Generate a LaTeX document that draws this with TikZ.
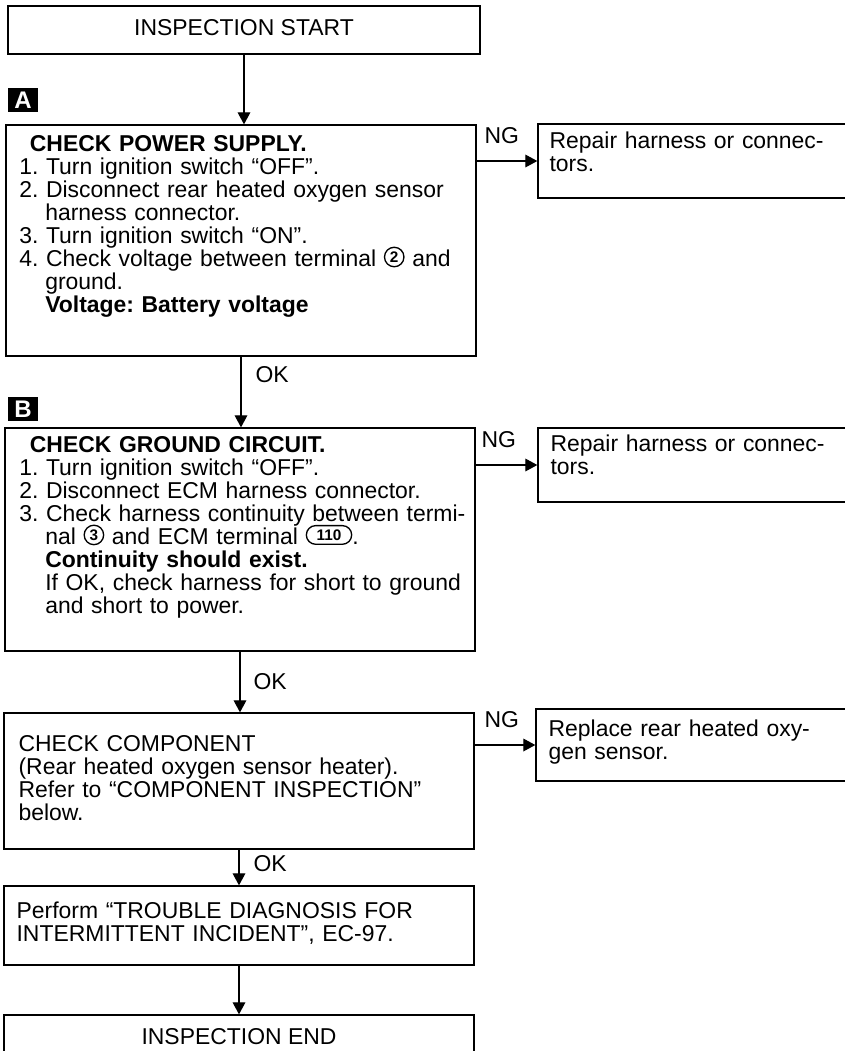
\documentclass[tikz,border=0pt]{standalone}
\usepackage{fontspec}
\setmainfont{Liberation Sans}
\frenchspacing
\usetikzlibrary{arrows.meta}

\tikzset{every picture/.style={line width=0.9pt}}
\tikzset{
  procbox/.style={draw, line width=1pt, inner sep=0pt},
  boxtxt/.style={anchor=base west, inner sep=0pt, text width=350pt, align=left, font=\fontsize{17.2}{17.3}\selectfont},
  sidetxt/.style={boxtxt, text width=230pt},
  lbl/.style={anchor=base west, inner sep=0pt, font=\fontsize{17.2}{17.3}\selectfont},
  tag/.style={fill=black, text=white, inner sep=0pt, minimum width=22.5pt, minimum height=18pt, font=\fontsize{18}{18}\selectfont\bfseries},
  flow/.style={-{Triangle[length=9pt,width=9.5pt]}, line width=0.9pt},
  termnum/.style={anchor=center, inner sep=0pt, text width={}, align=center, font=\fontsize{11.5}{11.5}\selectfont\bfseries}
}
% circled terminal numbers
\newcommand{\cnum}[1]{\smash{\tikz[baseline=-7pt]{\draw[line width=1pt] (0pt,0pt) circle[radius=7.3pt]; \node[termnum] (cn) at (0pt,0pt) {#1};}}}
\newcommand{\onum}[1]{\smash{\tikz[baseline=-7pt]{\draw[line width=1pt, rounded corners=7pt] (-17pt,-7pt) rectangle (17pt,7pt); \node[termnum] (on) at (0pt,0pt) {#1};}}}

\begin{document}
\begin{tikzpicture}[x=0.75pt,y=0.75pt,yscale=-1,xscale=1]
\useasboundingbox (0,0) rectangle (845,1051);

%Flowchart: Process
\node[procbox, minimum width=354pt, minimum height=36pt, text depth=4pt, font=\fontsize{17.2}{17}\selectfont] (start) at (244,30) {INSPECTION START};
%Flowchart: Process
\node[procbox, minimum width=352.5pt, minimum height=173.25pt] (pwr) at (241,240.5) {};
%Flowchart: Process
\node[procbox, minimum width=352.5pt, minimum height=167.25pt] (gnd) at (240,539.5) {};
%Flowchart: Process
\node[procbox, minimum width=352.5pt, minimum height=102pt] (comp) at (239,781) {};
%Flowchart: Process
\node[procbox, minimum width=352.5pt, minimum height=59.25pt] (perf) at (239,925.5) {};
%Flowchart: Process
\node[procbox, minimum width=352.5pt, minimum height=33pt, font=\fontsize{17.2}{17}\selectfont] (fin) at (239,1037) {INSPECTION END};
%Flowchart: Process
\node[procbox, minimum width=237.75pt, minimum height=55.5pt] (rep1) at (696.5,161) {};
%Flowchart: Process
\node[procbox, minimum width=237.75pt, minimum height=55.5pt] (rep2) at (696.5,465) {};
%Flowchart: Process
\node[procbox, minimum width=239.25pt, minimum height=54pt] (repl) at (695.5,745) {};

% Tags
\node[tag] (tagA) at (23,100) {A};
\node[tag] (tagB) at (23,409) {B};

% Text Node
\node[boxtxt] (txtpwr) at (19,151) {\hspace*{8pt}\textbf{CHECK POWER SUPPLY.}\\
1. Turn ignition switch “OFF”.\\
2. Disconnect rear heated oxygen sensor\\
\hspace*{19.5pt}harness connector.\\
3. Turn ignition switch “ON”.\\
4. Check voltage between terminal \cnum{2} and\\
\hspace*{19.5pt}ground.\\
\hspace*{19.5pt}\textbf{Voltage: Battery voltage}};
% Text Node
\node[boxtxt] (txtgnd) at (19,452) {\hspace*{8pt}\textbf{CHECK GROUND CIRCUIT.}\\
1. Turn ignition switch “OFF”.\\
2. Disconnect ECM harness connector.\\
3. Check harness continuity between termi-\\
\hspace*{19.5pt}nal \cnum{3} and ECM terminal \onum{110}.\\
\hspace*{19.5pt}\textbf{Continuity should exist.}\\
\hspace*{19.5pt}If OK, check harness for short to ground\\
\hspace*{19.5pt}and short to power.};
% Text Node
\node[boxtxt] (txtcomp) at (18,751) {CHECK COMPONENT\\
(Rear heated oxygen sensor heater).\\
Refer to “COMPONENT INSPECTION”\\
below.};
% Text Node
\node[boxtxt] (txtperf) at (16,918) {Perform “TROUBLE DIAGNOSIS FOR\\
INTERMITTENT INCIDENT”, EC-97.};
% Text Node
\node[sidetxt] (txtrep1) at (549,148) {Repair harness or connec-\\tors.};
% Text Node
\node[sidetxt] (txtrep2) at (550,451) {Repair harness or connec-\\tors.};
% Text Node
\node[sidetxt] (txtrepl) at (548,736) {Replace rear heated oxy-\\gen sensor.};

% Straight Lines
\draw[flow] (start.south) -- (start.south |- pwr.north);
\draw[flow] (pwr.south) -- (pwr.south |- gnd.north);
\draw[flow] (gnd.south) -- (gnd.south |- comp.north);
\draw[flow] (comp.south) -- (comp.south |- perf.north);
\draw[flow] (perf.south) -- (perf.south |- fin.north);
\draw[flow] (pwr.east |- rep1.west) -- (rep1.west);
\draw[flow] (gnd.east |- rep2.west) -- (rep2.west);
\draw[flow] (comp.east |- repl.west) -- (repl.west);

% Text Node
\node[lbl] (ng1) at (484,143) {NG};
\node[lbl] (ng2) at (481,447) {NG};
\node[lbl] (ng3) at (484,727) {NG};
\node[lbl] (ok1) at (255,382) {OK};
\node[lbl] (ok2) at (253,689) {OK};
\node[lbl] (ok3) at (253,871) {OK};

\end{tikzpicture}
\end{document}
